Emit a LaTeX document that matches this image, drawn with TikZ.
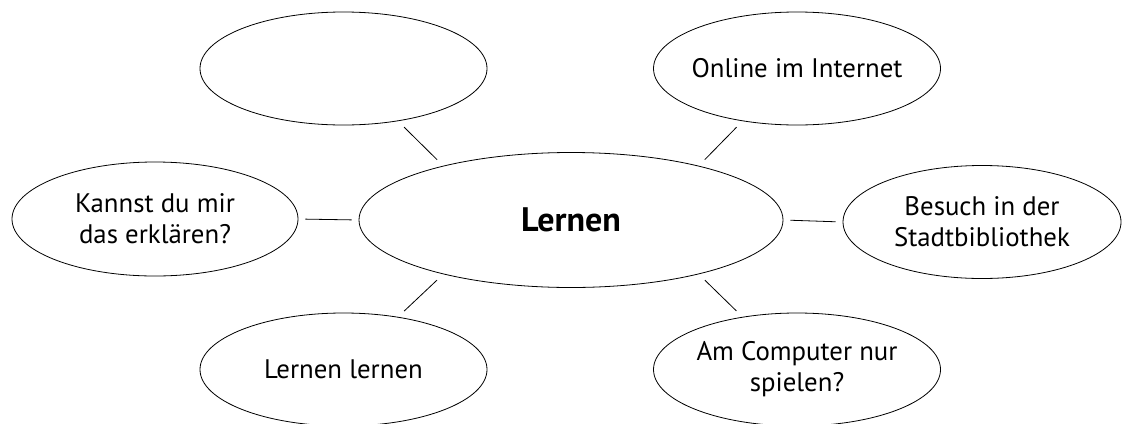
\documentclass[tikz,border=0pt]{standalone}
\usepackage{fontspec}
\setmainfont{PT Sans}
\usetikzlibrary{shapes.geometric}

\tikzset{
  bubble/.style={ellipse, draw, minimum width=143.5pt, minimum height=56.5pt,
    inner xsep=-8pt, inner ysep=0pt, align=center,
    font=\fontsize{13.4}{15.5}\selectfont},
  hub/.style={bubble, minimum width=212pt, minimum height=67.5pt,
    font=\fontsize{17}{19}\selectfont\bfseries},
  spoke/.style={shorten <=4.25pt, shorten >=4.25pt}
}

\begin{document}
\begin{tikzpicture}[x=0.5pt,y=-0.5pt]
\useasboundingbox (0,0) rectangle (1122,423);

% Center topic
\node[hub] (lern) at (571,220) {Lernen};

% Surrounding ideas
\node[bubble] (tl) at (343.5,68.5) {};
\node[bubble] (tr) at (797,68.5) {Online im Internet};
\node[bubble,minimum width=143pt,minimum height=57pt] (lf) at (155,219) {Kannst du mir\\das erklären?};
\node[bubble,minimum width=139pt] (rt) at (982,222) {Besuch in der\\Stadtbibliothek};
\node[bubble] (bl) at (343.5,369.5) {Lernen lernen};
\node[bubble] (br) at (797,369.5) {Am Computer nur\\spielen?};

% Spokes (short lines, not touching)
\draw[spoke] (lern.157) -- (tl.316);
\draw[spoke] (lern.23) -- (tr.224);
\draw[spoke] (lern.203) -- (bl.44);
\draw[spoke] (lern.337) -- (br.136);
\draw[shorten <=3.5pt,shorten >=3.5pt] (lern.180) -- (lf.0);
\draw[shorten <=3.5pt,shorten >=3.5pt] (lern.0) -- (rt.180);
\end{tikzpicture}
\end{document}
